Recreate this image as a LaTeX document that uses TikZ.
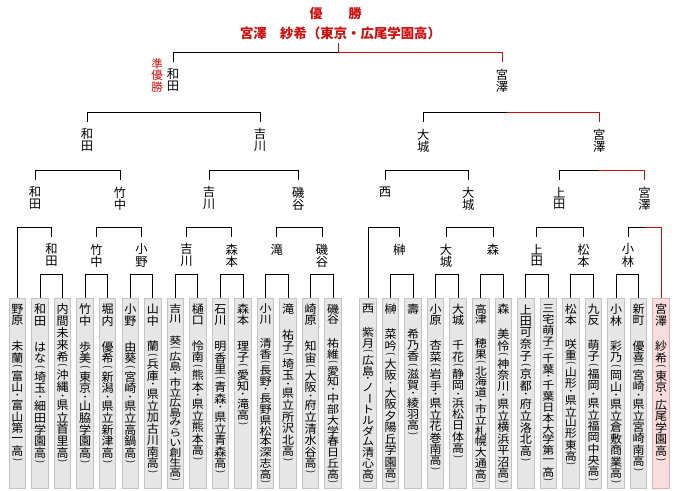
\documentclass[tikz,border=0pt]{standalone}
\usepackage{fontspec}
\usepackage{graphicx}
\setmainfont{Noto Sans CJK JP}
\definecolor{winred}{HTML}{CC0F0F}
\definecolor{boxfill}{HTML}{E6E6E6}
\definecolor{boxline}{HTML}{C4C4C4}
\definecolor{champfill}{HTML}{F7DEDE}
\definecolor{champline}{HTML}{E2B0B0}

% Vertical (top-to-bottom) text: one cell per character.
% "|" stands for the gap between family and given name.
\makeatletter
\def\vt@end{\vt@end}
\def\vt@cell#1#2{\vbox to #1{\vss\hbox to 1.1em{\hss#2\hss}\vss}}
\def\vt@paren#1{\rotatebox[origin=c]{-90}{\scalebox{.8}{#1}}}
\def\vt@dot{{\fontsize{.55\dimexpr\f@size pt\relax}{0pt}\selectfont\bfseries ・}}
\def\vt@aux#1{%
  \ifx\vt@end#1\else
    \ifx（#1\vt@cell{.55em}{\vt@paren(}%
    \else\ifx）#1\vt@cell{.55em}{\vt@paren)}%
    \else\ifx・#1\vt@cell{.55em}{\vt@dot}%
    \else\ifx ー#1\vt@cell{1em}{\rotatebox[origin=c]{-90}{ー}}%
    \else\ifx|#1\vt@cell{1.2em}{}%
    \else\vt@cell{1em}{#1}%
    \fi\fi\fi\fi\fi
    \expandafter\vt@aux
  \fi}
\newcommand\vtext[1]{\vbox{\offinterlineskip\vt@aux#1\vt@end}}
\makeatother

\tikzset{
  tie/.style={line width=1pt, black},
  winline/.style={draw=winred},
  pbox/.style={draw=boxline, fill=boxfill, line width=1pt, minimum width=16.5pt,
    minimum height=190.5pt, inner sep=0pt, anchor=north,
    font=\fontsize{12}{12}\selectfont},
  champbox/.style={pbox, draw=champline, fill=champfill},
  tag/.style={inner xsep=0pt, inner ysep=6pt, anchor=north, font=\fontsize{12.3}{12.3}\selectfont},
}

% entrant box with its name written downwards from the top; #4 = length of the text
\newcommand\player[5][pbox]{%
  \node[#1] (#2) at (#3,297.5)
    {\vbox to 190.5pt{\kern5.5pt\hbox to 16.5pt{\hss\resizebox*{\width}{#4pt}{\vtext{#5}}\hss}\vss}};}

% plain bracket between two entries at level #3
\newcommand\bracket[3]{%
  \draw[tie] (#1.north) -- (#1.north |- #3) -- (#2.north |- #3) -- (#2.north);}
% bracket whose right half (from #4 on) is the champion's path
\newcommand\winbracket[4]{%
  \draw[tie] (#1.north) -- (#1.north |- #3) -- (#4 |- #3);
  \draw[tie, winline] (#4 |- #3) -- (#2.north |- #3) -- (#2.north);}

\begin{document}
\begin{tikzpicture}[x=1pt, y=-1pt]
\fill[white] (0,0) rectangle (680,490);

\coordinate (lvA) at (0,274);
\coordinate (lvB) at (0,227);
\coordinate (lvC) at (0,170);
\coordinate (lvD) at (0,112);
\coordinate (lvE) at (0,52);

% ---- title ----
\node[font=\fontsize{13}{13}\selectfont\bfseries, text=winred, inner sep=0pt] (yusho) at (335.5,14) {優　　勝};
\node[font=\fontsize{13.4}{14}\selectfont\bfseries, text=winred, inner xsep=0pt, inner ysep=3pt] (champ) at (340.5,33.5) {宮澤　紗希（東京・広尾学園高）};
\node[inner sep=0pt, anchor=north, text=winred, font=\fontsize{11.5}{11.5}\selectfont] (runner) at (157,58) {\vtext{準優勝}};

% ---- entrants ----
\player{p1}{17.5}{160}{野原|未蘭（富山・富山第一高）}
\player{p2}{40.05}{162}{和田|はな（埼玉・細田学園高）}
\player{p3}{62.6}{162}{内間未来希（沖縄・県立首里高）}
\player{p4}{85.15}{162}{竹中|歩美（東京・山脇学園高）}
\player{p5}{107.7}{162}{堀内|優希（新潟・県立新津高）}
\player{p6}{130.25}{162}{小野|由葵（宮崎・県立高鍋高）}
\player{p7}{152.8}{172}{山中|蘭（兵庫・県立加古川南高）}
\player{p8}{175.35}{180}{吉川|葵（広島・市立広島みらい創生高）}
\player{p9}{197.9}{159}{樋口|怜南（熊本・県立熊本高）}
\player{p10}{220.45}{172}{石川|明香里（青森・県立青森高）}
\player{p11}{243.0}{124}{森本|理子（愛知・滝高）}
\player{p12}{265.55}{182}{小川|清香（長野・長野県松本深志高）}
\player{p13}{288.1}{160}{滝|祐子（埼玉・県立所沢北高）}
\player{p14}{310.65}{172}{崎原|知宙（大阪・府立清水谷高）}
\player{p15}{333.2}{182}{磯谷|祐維（愛知・中部大学春日丘高）}
\player{p16}{368}{182}{西|紫月（広島・ノートルダム清心高）}
\player{p17}{390.55}{182}{榊|菜吟（大阪・大阪夕陽丘学園高）}
\player{p18}{413.1}{134}{壽|希乃香（滋賀・綾羽高）}
\player{p19}{435.65}{169}{小原|杏菜（岩手・県立花巻南高）}
\player{p20}{458.2}{157}{大城|千花（静岡・浜松日体高）}
\player{p21}{480.75}{182}{高津|穂果（北海道・市立札幌大通高）}
\player{p22}{503.3}{182}{森|美怜（神奈川・県立横浜平沼高）}
\player{p23}{525.85}{160}{上田可奈子（京都・府立洛北高）}
\player{p24}{548.4}{180}{三宅萌子（千葉・千葉日本大学第一高）}
\player{p25}{570.95}{164}{松本|咲重（山形・県立山形東高）}
\player{p26}{593.5}{180}{九反|萌子（福岡・県立福岡中央高）}
\player{p27}{616.05}{182}{小林|彩乃（岡山・県立倉敷商業高）}
\player{p28}{638.6}{170}{新町|優喜（宮崎・県立宮崎南高）}
\player[champbox]{p29}{661.15}{160}{宮澤|紗希（東京・広尾学園高）}

% ---- first-round winners ----
\node[tag] (a1) at (51.5,237) {\vtext{和田}};
\node[tag] (a2) at (96.5,237) {\vtext{竹中}};
\node[tag] (a3) at (141.5,237) {\vtext{小野}};
\node[tag] (a4) at (186.5,237) {\vtext{吉川}};
\node[tag] (a5) at (231.7,237) {\vtext{森本}};
\node[tag] (a6) at (276.8,237) {\vtext{滝}};
\node[tag] (a7) at (322,237) {\vtext{磯谷}};
\node[tag] (a8) at (399.3,237) {\vtext{榊}};
\node[tag] (a9) at (446,237) {\vtext{大城}};
\node[tag] (a10) at (493,237) {\vtext{森}};
\node[tag] (a11) at (536.7,237) {\vtext{上田}};
\node[tag] (a12) at (583.5,237) {\vtext{松本}};
\node[tag] (a13) at (628,237) {\vtext{小林}};

% ---- second-round winners ----
\node[tag] (b1) at (35,180) {\vtext{和田}};
\node[tag] (b2) at (120,180) {\vtext{竹中}};
\node[tag] (b3) at (209,180) {\vtext{吉川}};
\node[tag] (b4) at (298.3,180) {\vtext{磯谷}};
\node[tag] (b5) at (385,180) {\vtext{西}};
\node[tag] (b6) at (468.3,180) {\vtext{大城}};
\node[tag] (b7) at (559.3,180) {\vtext{上田}};
\node[tag] (b8) at (644.5,180) {\vtext{宮澤}};

% ---- quarter-final winners ----
\node[tag] (q1) at (87,122) {\vtext{和田}};
\node[tag] (q2) at (260,122) {\vtext{吉川}};
\node[tag] (q3) at (423.3,122) {\vtext{大城}};
\node[tag] (q4) at (599.3,122) {\vtext{宮澤}};

% ---- finalists ----
\node[tag] (f1) at (173,62) {\vtext{和田}};
\node[tag] (f2) at (502,62) {\vtext{宮澤}};

% ---- brackets ----
\bracket{p2}{p3}{lvA}
\bracket{p4}{p5}{lvA}
\bracket{p6}{p7}{lvA}
\bracket{p8}{p9}{lvA}
\bracket{p10}{p11}{lvA}
\bracket{p12}{p13}{lvA}
\bracket{p14}{p15}{lvA}
\bracket{p17}{p18}{lvA}
\bracket{p19}{p20}{lvA}
\bracket{p21}{p22}{lvA}
\bracket{p23}{p24}{lvA}
\bracket{p25}{p26}{lvA}
\bracket{p27}{p28}{lvA}

\bracket{p1}{a1}{lvB}
\bracket{a2}{a3}{lvB}
\bracket{a4}{a5}{lvB}
\bracket{a6}{a7}{lvB}
\bracket{p16}{a8}{lvB}
\bracket{a9}{a10}{lvB}
\bracket{a11}{a12}{lvB}
\winbracket{a13}{p29}{lvB}{b8}

\bracket{b1}{b2}{lvC}
\bracket{b3}{b4}{lvC}
\bracket{b5}{b6}{lvC}
\winbracket{b7}{b8}{lvC}{q4}

\coordinate (sD) at (507,112);
\bracket{q1}{q2}{lvD}
\winbracket{q3}{q4}{lvD}{sD}

\coordinate (sE) at (338,52);
\winbracket{f1}{f2}{lvE}{sE}
\draw[tie, winline] (sE) -- (champ.south -| sE);
\end{tikzpicture}
\end{document}
